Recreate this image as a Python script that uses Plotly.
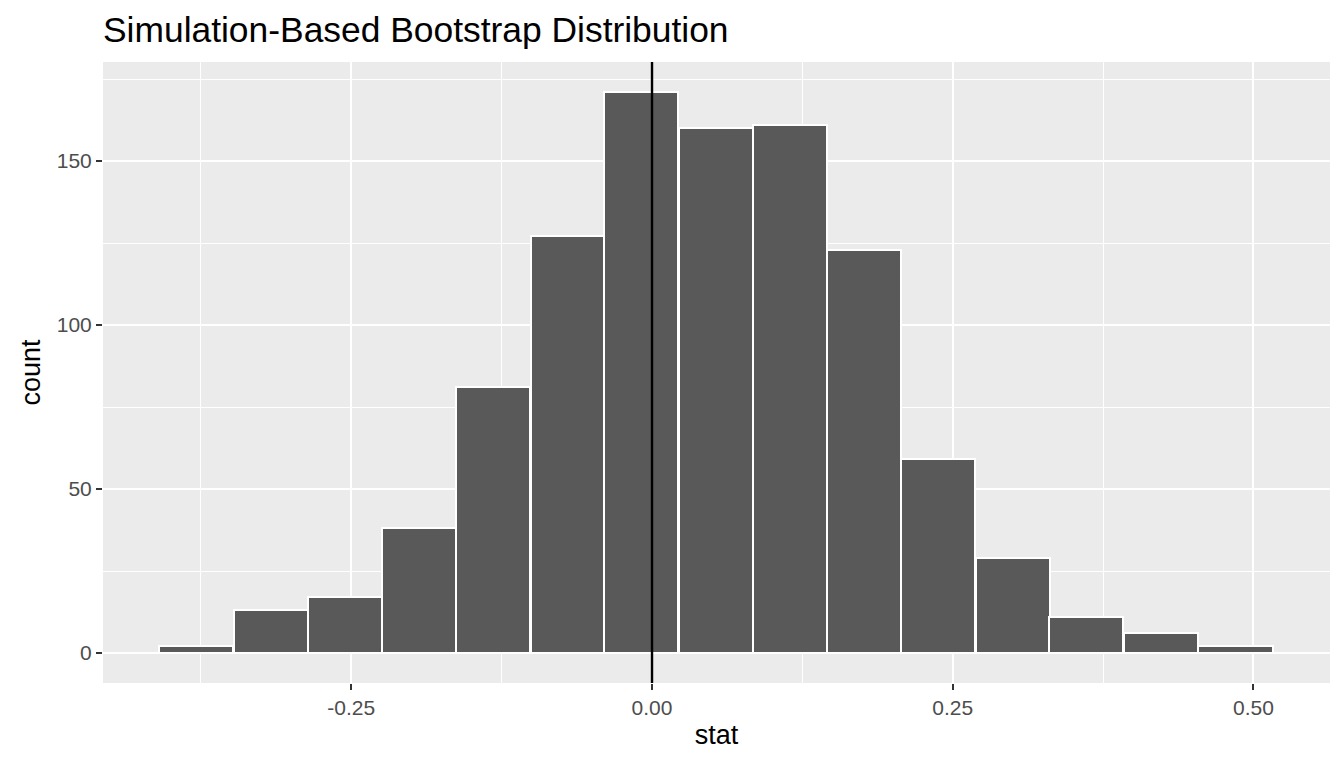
import plotly.graph_objects as go

# bootstrap histogram, 15 bins
bin_centers = [-0.379, -0.317, -0.255, -0.194, -0.132, -0.070, -0.009, 0.053,
               0.115, 0.176, 0.238, 0.300, 0.361, 0.423, 0.485]
counts = [2, 13, 17, 38, 81, 127, 171, 160, 161, 123, 59, 29, 11, 6, 2]
bin_width = 0.0617
x_ticks = [-0.25, 0.0, 0.25, 0.5]
x_tick_labels = ["-0.25", "0.00", "0.25", "0.50"]
y_ticks = [0, 50, 100, 150]

# page body adds ~8px, so the figure is a bit smaller than the window
W, H = 1328, 752

fig = go.Figure()
fig.add_trace(go.Bar(
    x=bin_centers,
    y=counts,
    width=bin_width,
    marker_color="#595959",
    marker_line=dict(color="white", width=2),
    showlegend=False,
))

# line at zero
fig.add_shape(type="line", x0=0, x1=0, xref="x", y0=0, y1=1, yref="paper",
              line=dict(color="black", width=2.4))

fig.update_layout(
    width=W,
    height=H,
    paper_bgcolor="white",
    plot_bgcolor="#EBEBEB",
    font=dict(family="Liberation Sans", size=21, color="black"),
    margin=dict(l=95, r=6, t=54, b=77),
    bargap=0,
    title=dict(
        text="Simulation-Based Bootstrap Distribution",
        x=95 / W,
        xanchor="left",
        y=1 - 22 / H,
        yanchor="middle",
        font=dict(size=35.4, color="black"),
    ),
)

fig.update_xaxes(
    range=[-0.4564, 0.5636],
    tickvals=x_ticks,
    ticktext=x_tick_labels,
    ticks="outside",
    ticklen=6,
    tickwidth=1.5,
    tickcolor="#333333",
    tickfont=dict(size=21, color="#4D4D4D"),
    showgrid=True,
    gridcolor="white",
    gridwidth=2,
    minor=dict(tickvals=[-0.375, -0.125, 0.125, 0.375], showgrid=True,
               gridcolor="white", gridwidth=1),
    zeroline=False,
    showline=False,
    title=dict(text="stat", font=dict(size=27, color="black"), standoff=6),
)

fig.update_yaxes(
    range=[-9.15, 180.2],
    tickvals=y_ticks,
    ticks="outside",
    ticklen=6,
    tickwidth=1.5,
    tickcolor="#333333",
    tickfont=dict(size=21, color="#4D4D4D"),
    showgrid=True,
    gridcolor="white",
    gridwidth=2,
    minor=dict(tickvals=[25, 75, 125, 175], showgrid=True,
               gridcolor="white", gridwidth=1),
    zeroline=False,
    showline=False,
    title=dict(text="count", font=dict(size=27, color="black"), standoff=8),
)

fig.write_html("out.html")
